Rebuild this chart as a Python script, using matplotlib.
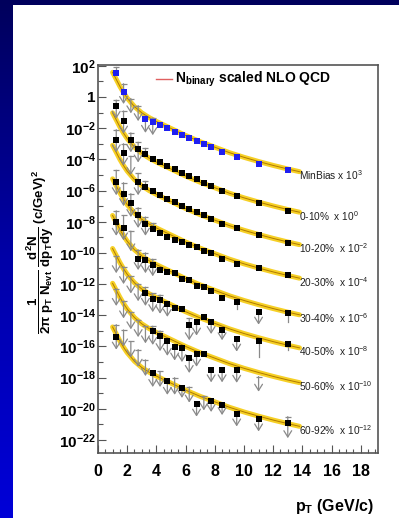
import matplotlib
matplotlib.use('Agg')
import matplotlib.pyplot as plt
import numpy as np
from matplotlib.colors import LinearSegmentedColormap
from matplotlib.patches import Rectangle
from matplotlib.ticker import FixedLocator, FuncFormatter, MultipleLocator

plt.rcParams['font.family'] = ['Liberation Sans', 'DejaVu Sans']
plt.rcParams['mathtext.fontset'] = 'custom'
plt.rcParams['mathtext.rm'] = 'Liberation Sans'
plt.rcParams['mathtext.it'] = 'Liberation Sans:italic'
plt.rcParams['mathtext.bf'] = 'Liberation Sans:bold'

# measured pT bins (GeV/c)
PT = [1.25, 1.75, 2.25, 2.75, 3.25, 3.75, 4.25, 4.75, 5.25, 5.75,
      6.25, 6.75, 7.25, 7.75, 8.5, 9.5, 11.0, 13.0]

# log10 of the yields (already scaled), None = no point
mb_val = [1.56, 0.30, None, None, -1.43, -1.58, -1.79, -2.01, -2.22, -2.45,
          -2.62, -2.80, -3.02, -3.24, -3.52, -3.83, -4.29, -4.68]
c0_val = [-0.60, -1.55, -2.75, -3.35, -3.65, -3.95, -4.20, -4.42, -4.65, -4.88,
          -5.08, -5.28, -5.50, -5.70, -6.05, -6.35, -6.78, -7.29]
c1_val = [-2.75, -3.60, None, -5.45, -5.75, -6.05, -6.30, -6.52, -6.75, -6.98,
          -7.18, -7.38, -7.60, -7.80, -8.15, -8.42, -8.85, -9.34]
c2_val = [-5.45, -6.20, -6.80, -7.60, -8.15, -8.45, -8.70, -8.95, -9.20, -9.30,
          -9.50, -9.60, -9.85, -10.00, -10.40, -10.70, -11.00, -11.41]
c3_val = [-8.00, -8.40, None, -10.38, -10.45, -10.77, -11.09, -11.24, -11.30, -11.67,
          -11.73, -12.10, -12.16, -12.42, -12.90, -13.12, -13.76, -13.83]
c4_val = [None, None, None, None, -12.60, -12.95, -13.05, -13.30, -13.55, -13.60,
          -14.60, -14.45, -14.10, -14.45, -14.94, -15.53, -15.62, -15.85]
c5_val = [None, None, None, None, None, -15.00, -15.35, -15.68, -16.05, -16.11,
          -16.75, -16.47, -16.47, -17.50, -17.50, -17.50, None, None]
c6_val = [-15.37, None, None, None, None, -17.67, None, -18.20, None, -18.67,
          None, -19.68, None, -19.49, -19.74, -20.32, -20.66, -20.92]

# log10 of upper error caps
mb_top = [1.95, 0.85, -0.10, -0.55, -1.20, -1.35] + [None] * 12
c0_top = [-0.20, -0.90, -2.30, -2.90, -3.30] + [None] * 13
c1_top = [-2.10, -3.00, -3.80, -4.90, -5.40] + [None] * 13
c2_top = [-4.70, -5.50, -6.20, -7.10, -7.70, -8.10] + [None] * 12
c3_top = [-7.30, -7.60, -8.60, -9.80, -10.00, -10.40] + [None] * 12
c4_top = [-10.20, -10.90, -11.50, -12.00, -12.20, -12.60, -12.70, None, None, None,
          -14.20, None, None, None, None, None, None, None]
c5_top = [-12.30, -13.10, -13.80, -14.30, -14.70, -14.70, -15.00, None, None, None,
          None, None, None, None, None, None, -17.93, None]
c6_top = [-14.60, -14.94, -15.68, -16.20, -16.86, None, -17.60, None, -18.00, None,
          -18.60, None, -19.20, None, None, None, None, -20.50]

# log10 of lower error ends (arrow = consistent with zero)
mb_bot = [None, -0.45, -1.05, -1.55, -2.30, -2.45] + [None] * 12
c0_bot = [-1.40, -2.35, -3.55, -4.20] + [None] * 14
c1_bot = [-3.55, -4.40, -5.00, -6.30] + [None] * 14
c2_bot = [-6.30, -7.00, -7.70, -8.40, -8.90] + [None] * 13
c3_bot = [-8.90, -9.20, -9.90, -11.10, -11.30, -11.50] + [None] * 9 + [-13.60, -14.60, -14.40]
c4_bot = [-11.30, -12.00, -12.60, -13.10, -13.40, -13.80, -13.90, -14.10, None, None,
          -15.60, -15.30, None, -15.20, -15.60, -16.33, -16.65, -16.20]
c5_bot = [-13.40, -14.20, -14.90, -15.40, -15.80, -15.90, -16.30, -16.60, -16.90, -17.00,
          -17.70, -17.30, None, -18.30, -18.30, -18.33, -18.90, None]
c6_bot = [-16.20, -16.00, -16.70, -17.30, -17.90, -18.60, -18.60, -19.10, -19.10, -19.30,
          -19.60, -20.50, -20.10, -20.20, -20.40, -21.13, -21.45, -21.88]
# bins whose lower bar ends without an arrow head
c3_plain = [15, 17]
c4_plain = [16, 17]

# NLO QCD x Nbinary curves, log10
CURVE_PT = [1.0, 1.25, 1.5, 1.75, 2.0, 2.5, 3.0, 3.5, 4.0, 5.0, 6.0, 7.0,
            8.0, 9.0, 10.0, 11.0, 12.0, 13.0, 13.8]
mb_nlo = [1.58, 1.13, 0.68, 0.28, -0.07, -0.62, -1.02, -1.32, -1.57, -2.02,
          -2.47, -2.87, -3.22, -3.57, -3.87, -4.14, -4.39, -4.62, -4.79]
c0_nlo = [-1.02, -1.47, -1.92, -2.32, -2.67, -3.22, -3.62, -3.92, -4.17, -4.62,
          -5.07, -5.47, -5.82, -6.17, -6.47, -6.74, -6.99, -7.22, -7.39]
c1_nlo = [-3.10, -3.55, -4.00, -4.40, -4.75, -5.30, -5.70, -6.00, -6.25, -6.70,
          -7.15, -7.55, -7.90, -8.25, -8.55, -8.82, -9.07, -9.30, -9.47]
c2_nlo = [-5.25, -5.70, -6.15, -6.55, -6.90, -7.45, -7.85, -8.15, -8.40, -8.85,
          -9.30, -9.70, -10.05, -10.40, -10.70, -10.97, -11.22, -11.45, -11.62]
c3_nlo = [-7.60, -8.05, -8.50, -8.90, -9.25, -9.80, -10.20, -10.50, -10.75, -11.20,
          -11.65, -12.05, -12.40, -12.75, -13.05, -13.32, -13.57, -13.80, -13.97]
c4_nlo = [-9.72, -10.17, -10.62, -11.02, -11.37, -11.92, -12.32, -12.62, -12.87, -13.32,
          -13.77, -14.17, -14.52, -14.87, -15.17, -15.44, -15.69, -15.92, -16.09]
c5_nlo = [-11.95, -12.40, -12.85, -13.25, -13.60, -14.15, -14.55, -14.85, -15.10, -15.55,
          -16.00, -16.40, -16.75, -17.10, -17.40, -17.67, -17.92, -18.15, -18.32]
c6_nlo = [-14.75, -15.20, -15.65, -16.05, -16.40, -16.95, -17.35, -17.65, -17.90, -18.35,
          -18.80, -19.20, -19.55, -19.90, -20.20, -20.47, -20.72, -20.95, -21.12]

labels = ['MinBias x 10$^{3}$', '0-10%  x 10$^{0}$', '10-20%  x 10$^{-2}$',
          '20-30%  x 10$^{-4}$', '30-40%  x 10$^{-6}$', '40-50%  x 10$^{-8}$',
          '50-60%  x 10$^{-10}$', '60-92%  x 10$^{-12}$']

series = [
    (mb_val, mb_top, mb_bot, [], mb_nlo, '#1f1ff0'),
    (c0_val, c0_top, c0_bot, [], c0_nlo, 'black'),
    (c1_val, c1_top, c1_bot, [], c1_nlo, 'black'),
    (c2_val, c2_top, c2_bot, [], c2_nlo, 'black'),
    (c3_val, c3_top, c3_bot, c3_plain, c3_nlo, 'black'),
    (c4_val, c4_top, c4_bot, c4_plain, c4_nlo, 'black'),
    (c5_val, c5_top, c5_bot, [], c5_nlo, 'black'),
    (c6_val, c6_top, c6_bot, [], c6_nlo, 'black'),
]


def e10(v):
    return np.power(10.0, v)


fig = plt.figure(figsize=(3.99, 5.18), dpi=100)

# slide background: blue gradient with white page
bg = fig.add_axes([0, 0, 1, 1])
bg.axis('off')
grad = np.linspace(0, 1, 256).reshape(-1, 1)
cmap = LinearSegmentedColormap.from_list('slide', ['#00005c', '#0000a8', '#0000d8'])
bg.imshow(grad, cmap=cmap, aspect='auto', extent=[0, 1, 0, 1], origin='upper')
bg.add_patch(Rectangle((13 / 399, 0), 1, 1 - 5 / 518, color='white', lw=0))
bg.set_xlim(0, 1)
bg.set_ylim(0, 1)

ax = fig.add_axes([98 / 399, 1 - 452.5 / 518, 280 / 399, 387.5 / 518])
ax.set_yscale('log')
ax.set_xlim(0, 19.18)
ax.set_ylim(e10(-22.8), e10(2.05))

gray = '#8a8a8a'
for (vals, tops, bots, plain, nlo, col), lab in zip(series, labels):
    ax.plot(CURVE_PT, e10(nlo), color='#f5c800', lw=3.6, alpha=0.85,
            solid_capstyle='round', zorder=2)
    ax.plot(CURVE_PT, e10(nlo), color='#b07a00', lw=0.7, zorder=2.1)
    ax.annotate(lab, xy=(CURVE_PT[-1], e10(nlo[-1])), xytext=(0, -2.5),
                textcoords='offset points', ha='left', va='center',
                fontsize=7.3, color='#202020')
    for i, (x, v, t, b) in enumerate(zip(PT, vals, tops, bots)):
        start = t if t is not None else v
        if b is not None:
            if i in plain:
                ax.plot([x, x], [e10(start), e10(b)], color=gray, lw=0.9, zorder=3)
            else:
                ax.annotate('', xy=(x, e10(b)), xytext=(x, e10(start)),
                            arrowprops=dict(arrowstyle='->,head_length=0.45,head_width=0.28',
                                            color=gray, lw=0.9, shrinkA=0, shrinkB=0),
                            zorder=3)
        elif t is not None and v is not None:
            ax.plot([x, x], [e10(v), e10(t)], color=gray, lw=0.9, zorder=3)
        if t is not None:
            ax.plot(x, e10(t), marker='_', ms=4, mew=0.9, color=gray, zorder=3)
    xs = [x for x, v in zip(PT, vals) if v is not None]
    ys = [e10(v) for v in vals if v is not None]
    ax.plot(xs, ys, 's', color=col, ms=4.2, mew=0, zorder=4)

# legend entry
ax.plot([4.0, 5.1], [e10(1.15), e10(1.15)], color='#e06060', lw=1.0)
ax.text(5.3, e10(1.15), r'$\mathbf{N_{binary}}$ scaled NLO QCD', fontsize=10,
        fontweight='bold', va='center', ha='left')

# axes styling
for sp in ax.spines.values():
    sp.set_color('#555555')
    sp.set_linewidth(1.2)
ax.xaxis.set_major_locator(MultipleLocator(2))
ax.xaxis.set_minor_locator(MultipleLocator(0.5))
ax.yaxis.set_major_locator(FixedLocator([e10(k) for k in range(-22, 3, 2)]))
ax.yaxis.set_minor_locator(FixedLocator([e10(k) for k in range(-21, 2, 2)]))
ax.yaxis.set_minor_formatter(FuncFormatter(lambda v, p: ''))


def ylab(v, p):
    k = int(round(np.log10(v)))
    return '1' if k == 0 else r'$\mathbf{10^{%d}}$' % k


ax.yaxis.set_major_formatter(FuncFormatter(ylab))
ax.tick_params(axis='both', which='both', direction='in', colors='#555555',
               labelcolor='black', top=False, right=False)
ax.tick_params(axis='x', which='major', length=6, width=0.8, pad=8, labelsize=11.5)
ax.tick_params(axis='x', which='minor', length=3, width=0.8)
ax.tick_params(axis='y', which='major', length=6, width=0.8, pad=1.5, labelsize=11)
ax.tick_params(axis='y', which='minor', length=3.5, width=0.8)
for t in ax.get_xticklabels() + ax.get_yticklabels():
    t.set_fontweight('bold')

fig.text(374 / 399, 1 - 506 / 518, r'$\mathbf{p_T}$ (GeV/c)', ha='right', va='center',
         fontsize=11.5, fontweight='bold')
fig.text(40 / 399, 1 - 252 / 518,
         r'$\mathbf{\dfrac{1}{2\pi\ p_T\ N_{evt}}\ \dfrac{d^2N}{dp_T dy}}$ $\mathbf{(c/GeV)^2}$',
         rotation=90, ha='center', va='center', fontsize=9.5, fontweight='bold')

fig.savefig('out.png', dpi=100)
